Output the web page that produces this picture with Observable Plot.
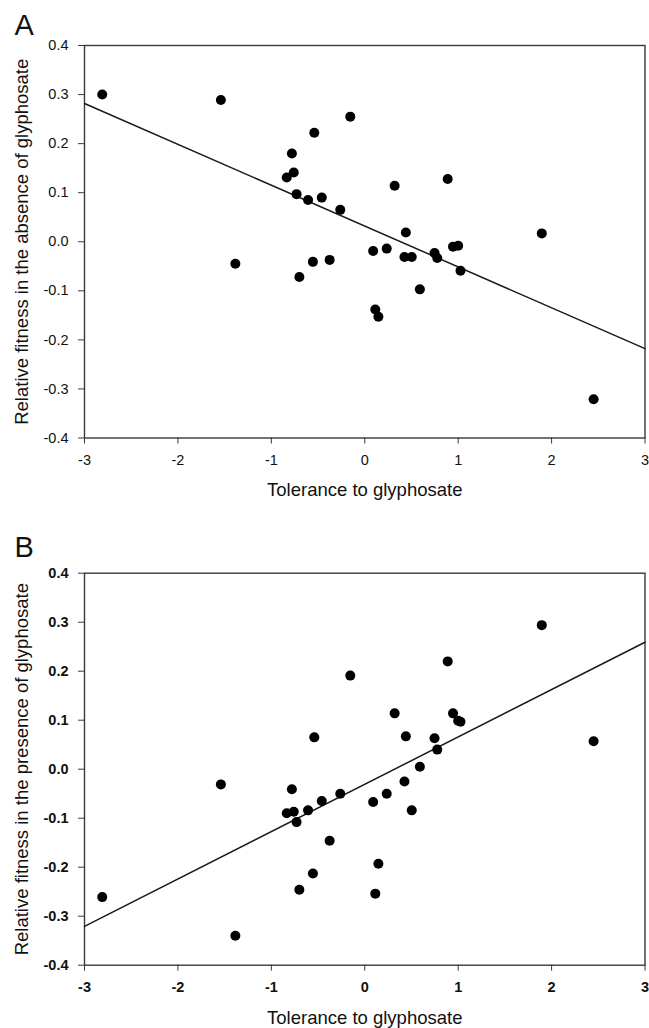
<!DOCTYPE html>
<html>
<head>
<meta charset="utf-8">
<script src="https://cdn.jsdelivr.net/npm/d3@7"></script>
<script src="https://cdn.jsdelivr.net/npm/@observablehq/plot@0.6"></script>
<style>
  html, body { margin: 0; padding: 0; background: #fff; }
  #chart { width: 649px; }
  #chart svg { display: block; }
  .bold-ticks g[aria-label="x-axis tick label"] text,
  .bold-ticks g[aria-label="y-axis tick label"] text { font-weight: bold; }
</style>
</head>
<body>
<div id="chart"></div>
<script>
// ---- data ----
const tolerance = [-2.81, -1.54, -1.385, -0.835, -0.78, -0.76, -0.73, -0.70, -0.607, -0.555, -0.54,
  -0.46, -0.376, -0.262, -0.155, 0.09, 0.113, 0.146, 0.235, 0.32, 0.425, 0.44, 0.503, 0.59,
  0.747, 0.776, 0.888, 0.945, 1.0, 1.025, 1.895, 2.45];
const fitnessAbsence = [0.300, 0.289, -0.045, 0.131, 0.180, 0.141, 0.097, -0.072, 0.085, -0.041, 0.222,
  0.090, -0.037, 0.065, 0.255, -0.019, -0.138, -0.153, -0.014, 0.114, -0.031, 0.019, -0.031, -0.097,
  -0.023, -0.033, 0.128, -0.010, -0.008, -0.059, 0.017, -0.321];
const fitnessPresence = [-0.261, -0.031, -0.340, -0.090, -0.041, -0.087, -0.108, -0.246, -0.084, -0.213, 0.065,
  -0.065, -0.146, -0.050, 0.191, -0.067, -0.254, -0.193, -0.050, 0.114, -0.025, 0.067, -0.084, 0.005,
  0.063, 0.040, 0.220, 0.114, 0.099, 0.097, 0.294, 0.057];
// regression lines [intercept, slope] as drawn in the reference
const fitAbsence = [0.032, -0.0833];
const fitPresence = [-0.0308, 0.0966];
const xTicks = [-3, -2, -1, 0, 1, 2, 3];
const yTicks = [-0.4, -0.3, -0.2, -0.1, 0, 0.1, 0.2, 0.3, 0.4];
const xDomain = [-3, 3];
const yDomain = [-0.4, 0.4];
const xTitle = "Tolerance to glyphosate";
const yTitles = ["Relative fitness in the absence of glyphosate", "Relative fitness in the presence of glyphosate"];
const letters = ["A", "B"];

function panel({letter, fitness, fit, yLabel, height, marginTop, marginBottom, letterDy, titleDy}) {
  const data = tolerance.map((t, i) => ({t, f: fitness[i]}));
  return Plot.plot({
    width: 649,
    height,
    marginLeft: 84,
    marginRight: 4.5,
    marginTop,
    marginBottom,
    style: {fontFamily: "'Liberation Sans', Arial, sans-serif", fontSize: "14.5px", color: "#111", background: "#fff", overflow: "visible"},
    x: {domain: xDomain},
    y: {domain: yDomain},
    marks: [
      Plot.frame({stroke: "#3a3a3a", strokeWidth: 1.4}),
      Plot.axisX({ticks: xTicks, tickFormat: d => String(d), tickSize: 6, tickPadding: 11, label: null, stroke: "#3a3a3a", fontSize: 14.5}),
      Plot.axisY({ticks: yTicks, tickFormat: d => d.toFixed(1), tickSize: 6, tickPadding: 10, label: null, stroke: "#3a3a3a", fontSize: 14.5}),
      Plot.line(xDomain, {x: d => d, y: d => fit[0] + fit[1] * d, stroke: "#1a1a1a", strokeWidth: 1.5}),
      Plot.dot(data, {x: "t", y: "f", r: 5, fill: "#000", stroke: "none"}),
      Plot.text([xTitle], {frameAnchor: "bottom", textAnchor: "middle", lineAnchor: "middle", dy: titleDy, fontSize: 18.5, fill: "#111", text: d => d}),
      Plot.text([yLabel], {frameAnchor: "left", textAnchor: "middle", lineAnchor: "middle", dx: -62, rotate: -90, fontSize: 18.5, fill: "#111", text: d => d}),
      Plot.text([letter], {frameAnchor: "top-left", textAnchor: "start", lineAnchor: "top", dx: -70, dy: letterDy, fontSize: 29, fill: "#111", text: d => d})
    ]
  });
}

const chart = document.getElementById("chart");
const a = panel({letter: letters[0], fitness: fitnessAbsence, fit: fitAbsence, yLabel: yTitles[0],
  height: 526, marginTop: 45, marginBottom: 88.5, letterDy: -30.6, titleDy: 52.5});
const b = panel({letter: letters[1], fitness: fitnessPresence, fit: fitPresence, yLabel: yTitles[1],
  height: 502, marginTop: 46.7, marginBottom: 63.3, letterDy: -36.3, titleDy: 53});
b.classList.add("bold-ticks");
chart.appendChild(a);
chart.appendChild(b);
</script>
</body>
</html>
